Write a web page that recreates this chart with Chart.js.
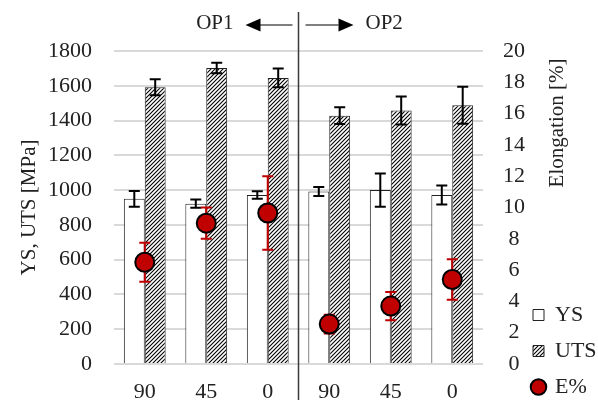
<!DOCTYPE html>
<html>
<head>
<meta charset="utf-8">
<script src="https://cdn.jsdelivr.net/npm/chart.js@4.4.1/dist/chart.umd.min.js"></script>
<style>
  html, body { margin: 0; padding: 0; background: #fff; }
  #wrap { width: 598px; height: 403px; }
</style>
</head>
<body>
<div id="wrap"><canvas id="mechChart"></canvas></div>
<script>
// data
var categories = ['90', '45', '0', '90', '45', '0'];
var ysValues = [950, 922, 972, 992, 1000, 972];
var ysErrors = [45, 24, 22, 26, 96, 55];
var utsValues = [1592, 1702, 1645, 1428, 1458, 1488];
var utsErrors = [46, 30, 54, 48, 80, 107];
var elongValues = [6.5, 9.0, 9.65, 2.55, 3.7, 5.4];
var elongErrors = [1.25, 1.0, 2.35, 0.6, 0.9, 1.3];
var leftTicks = { min: 0, max: 1800, step: 200 };
var rightTicks = { min: 0, max: 20, step: 2 };

var FONT = "'Liberation Serif', 'Times New Roman', serif";

// hatched fill for UTS bars
function makeHatch() {
    var c = document.createElement('canvas');
    c.width = 4;
    c.height = 4;
    var g = c.getContext('2d');
    g.fillStyle = '#fff';
    g.fillRect(0, 0, 4, 4);
    g.strokeStyle = '#000';
    g.lineWidth = 1.1;
    g.beginPath();
    g.moveTo(-1, 5); g.lineTo(5, -1);
    g.moveTo(-1, 1); g.lineTo(1, -1);
    g.moveTo(3, 5); g.lineTo(5, 3);
    g.stroke();
    return g.createPattern(c, 'repeat');
}

// error bars drawn from the scales
var errorBars = {
    id: 'errorBars',
    afterDatasetDraw: function (chart, args) {
        var i = args.index;
        if (i > 1) return;
        var errs = i === 0 ? ysErrors : utsErrors;
        var vals = i === 0 ? ysValues : utsValues;
        drawErr(chart, i, vals, errs, chart.scales.y, '#000');
    },
    beforeDatasetDraw: function (chart, args) {
        if (args.index !== 2) return;
        drawErr(chart, 2, elongValues, elongErrors, chart.scales.y2, '#c00000');
    }
};

function drawErr(chart, dsIndex, vals, errs, scale, color) {
    var ctx = chart.ctx;
    var meta = chart.getDatasetMeta(dsIndex);
    ctx.save();
    ctx.strokeStyle = color;
    ctx.lineWidth = 2;
    meta.data.forEach(function (el, k) {
        var x = el.x;
        var y1 = scale.getPixelForValue(vals[k] + errs[k]);
        var y2 = scale.getPixelForValue(vals[k] - errs[k]);
        ctx.beginPath();
        ctx.moveTo(x, y1); ctx.lineTo(x, y2);
        ctx.moveTo(x - 5.5, y1); ctx.lineTo(x + 5.5, y1);
        ctx.moveTo(x - 5.5, y2); ctx.lineTo(x + 5.5, y2);
        ctx.stroke();
    });
    ctx.restore();
}

// nudge the legend: a bit left (over the axis gap) and lower
var legendShift = {
    id: 'legendShift',
    afterLayout: function (chart) {
        var lg = chart.legend;
        lg.left -= 9;
        lg.top += 9;
        lg.bottom += 9;
    }
};

// OP1 / OP2 divider, arrows and right axis title
var annotations = {
    id: 'annotations',
    afterDraw: function (chart) {
        var ctx = chart.ctx;
        var xs = chart.scales.x;
        var area = chart.chartArea;
        var mid = (xs.getPixelForValue(2) + xs.getPixelForValue(3)) / 2;
        ctx.save();
        ctx.strokeStyle = '#3a3a3a';
        ctx.lineWidth = 1.5;
        ctx.beginPath();
        ctx.moveTo(mid, 12);
        ctx.lineTo(mid, 400);
        ctx.stroke();

        var ay = 25;
        ctx.strokeStyle = '#000';
        ctx.fillStyle = '#000';
        ctx.lineWidth = 1.2;
        ctx.beginPath();
        ctx.moveTo(mid - 6, ay); ctx.lineTo(mid - 40, ay);
        ctx.moveTo(mid + 7, ay); ctx.lineTo(mid + 40, ay);
        ctx.stroke();
        ctx.beginPath();
        ctx.moveTo(mid - 53, ay); ctx.lineTo(mid - 38, ay - 6.5); ctx.lineTo(mid - 38, ay + 6.5);
        ctx.closePath();
        ctx.moveTo(mid + 55, ay); ctx.lineTo(mid + 40, ay - 6.5); ctx.lineTo(mid + 40, ay + 6.5);
        ctx.closePath();
        ctx.fill();

        ctx.font = '21px ' + FONT;
        ctx.fillStyle = '#222';
        ctx.textBaseline = 'middle';
        ctx.textAlign = 'right';
        ctx.fillText('OP1', mid - 65, 23);
        ctx.textAlign = 'left';
        ctx.fillText('OP2', mid + 67, 23);

        // right axis title, reading upwards
        ctx.translate(area.right + 74, area.top + 72);
        ctx.rotate(-Math.PI / 2);
        ctx.textAlign = 'center';
        ctx.fillText('Elongation [%]', 0, 0);
        ctx.restore();
    }
};

Chart.defaults.font.family = FONT;
Chart.defaults.font.size = 22;
Chart.defaults.color = '#222';

var ctx = document.getElementById('mechChart').getContext('2d');
new Chart(ctx, {
    data: {
        labels: categories,
        datasets: [
            {
                type: 'bar',
                label: 'YS',
                data: ysValues,
                backgroundColor: '#fff',
                borderColor: '#222',
                borderWidth: 1,
                pointStyle: 'rect',
                yAxisID: 'y',
                order: 1,
                categoryPercentage: 0.68,
                barPercentage: 1.0
            },
            {
                type: 'bar',
                label: 'UTS',
                data: utsValues,
                backgroundColor: makeHatch(),
                borderColor: '#222',
                borderWidth: 1,
                pointStyle: 'rect',
                yAxisID: 'y',
                order: 1,
                categoryPercentage: 0.68,
                barPercentage: 1.0
            },
            {
                type: 'line',
                label: 'E%',
                data: elongValues,
                showLine: false,
                pointStyle: 'circle',
                pointRadius: 9.5,
                pointHoverRadius: 9.5,
                pointBackgroundColor: '#c00000',
                pointBorderColor: '#000',
                pointBorderWidth: 2,
                yAxisID: 'y2',
                order: 0
            }
        ]
    },
    options: {
        responsive: true,
        maintainAspectRatio: false,
        animation: false,
        layout: { padding: { top: 51, right: 0, bottom: 0, left: 0 } },
        plugins: {
            tooltip: { enabled: false },
            legend: {
                position: 'right',
                align: 'end',
                maxWidth: 70,
                labels: {
                    usePointStyle: true,
                    boxWidth: 11,
                    boxHeight: 11,
                    padding: 14,
                    color: '#222',
                    font: { size: 22, family: FONT },
                    sort: function (a, b) { return a.datasetIndex - b.datasetIndex; }
                }
            }
        },
        scales: {
            x: {
                grid: { display: false, drawTicks: false },
                border: { display: false },
                ticks: { padding: 15, maxRotation: 0 },
                afterFit: function (scale) { scale.height = 39; }
            },
            y: {
                position: 'left',
                min: leftTicks.min,
                max: leftTicks.max,
                ticks: {
                    stepSize: leftTicks.step,
                    padding: 22,
                    callback: function (v) { return String(v); }
                },
                grid: { color: '#d9d9d9', lineWidth: 2, drawTicks: false },
                border: { display: false },
                title: { display: true, text: 'YS, UTS [MPa]', font: { size: 21 }, padding: { top: 17, bottom: 0 } },
                afterFit: function (scale) { scale.width = 114; }
            },
            y2: {
                position: 'right',
                min: rightTicks.min,
                max: rightTicks.max,
                ticks: {
                    stepSize: rightTicks.step,
                    padding: 20,
                    crossAlign: 'center',
                    callback: function (v) { return String(v); }
                },
                grid: { display: false, drawTicks: false },
                border: { display: false },
                afterFit: function (scale) { scale.width = 45; }
            }
        }
    },
    plugins: [errorBars, legendShift, annotations]
});
</script>
</body>
</html>
